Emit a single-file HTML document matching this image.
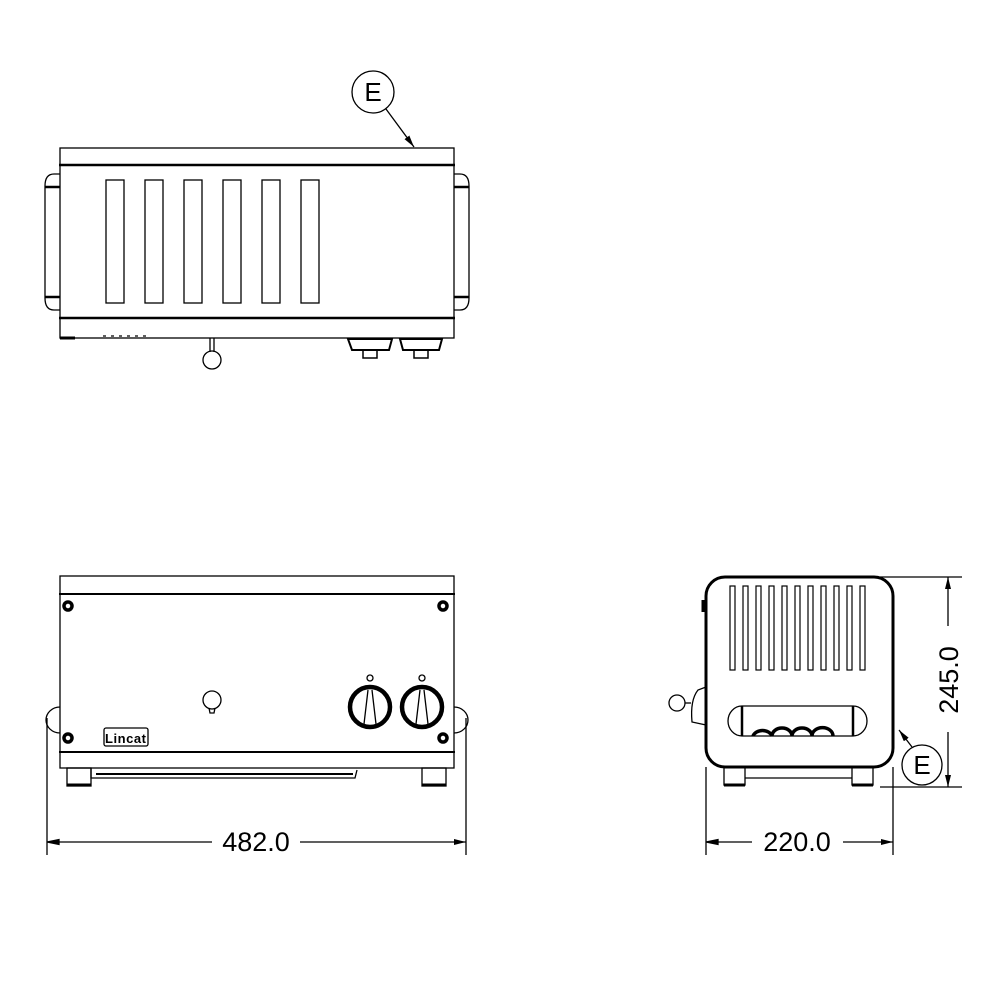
<!DOCTYPE html>
<html><head><meta charset="utf-8"><style>
html,body{margin:0;padding:0;background:#fff}
svg{display:block}
text{font-family:"Liberation Sans",Arial,sans-serif;fill:#000}
</style></head><body>
<svg width="1000" height="1000" viewBox="0 0 1000 1000" xmlns="http://www.w3.org/2000/svg">
<defs>
<marker id="ar" viewBox="0 0 12 6" refX="12" refY="3" markerWidth="12" markerHeight="6" markerUnits="userSpaceOnUse" orient="auto">
<path d="M0,0 L12,3 L0,6 Z" fill="#000"/></marker>
</defs>
<g fill="none" stroke="#000" stroke-width="1.3">
<!-- TOP VIEW -->
<rect x="60" y="148" width="394" height="190"/>
<line x1="59" y1="165" x2="455" y2="165" stroke-width="2.5"/>
<line x1="59" y1="318" x2="455" y2="318" stroke-width="2.5"/>
<path d="M60,174 H54 Q45,174 45,186 V298 Q45,310 54,310 H60"/>
<line x1="45" y1="187" x2="60" y2="187" stroke-width="2.5"/>
<line x1="45" y1="297" x2="60" y2="297" stroke-width="2.5"/>
<path d="M454,174 H460 Q469,174 469,186 V298 Q469,310 460,310 H454"/>
<line x1="454" y1="187" x2="469" y2="187" stroke-width="2.5"/>
<line x1="454" y1="297" x2="469" y2="297" stroke-width="2.5"/>
<rect x="106" y="180" width="18" height="123"/>
<rect x="145" y="180" width="18" height="123"/>
<rect x="184" y="180" width="18" height="123"/>
<rect x="223" y="180" width="18" height="123"/>
<rect x="262" y="180" width="18" height="123"/>
<rect x="301" y="180" width="18" height="123"/>
<line x1="60" y1="338" x2="75" y2="338" stroke-width="3"/>
<line x1="103" y1="336" x2="147" y2="336" stroke-dasharray="3,5"/>
<line x1="210" y1="338" x2="210" y2="352"/><line x1="214" y1="338" x2="214" y2="352"/>
<circle cx="212" cy="360" r="9"/>
<path d="M348,339 H392 L389,350 H352 Z" stroke-width="2"/>
<path d="M363,350 V358 H377 V350" stroke-width="1.5"/>
<path d="M400,339 H442 L439,350 H403 Z" stroke-width="2"/>
<path d="M414,350 V358 H428 V350" stroke-width="1.5"/>
<circle cx="373" cy="92" r="21"/>
<line x1="386" y1="109" x2="414" y2="147" marker-end="url(#ar)"/>

<!-- FRONT VIEW -->
<rect x="60" y="576" width="394" height="192"/>
<line x1="59" y1="594" x2="455" y2="594" stroke-width="2"/>
<line x1="59" y1="752" x2="455" y2="752" stroke-width="2"/>
<path d="M60,707 A14,13 0 0 0 60,733"/>
<path d="M454,707 A14,13 0 0 1 454,733"/>
<g stroke-width="3.5">
<circle cx="68" cy="606" r="4"/><circle cx="443" cy="606" r="4"/>
<circle cx="68" cy="738" r="4"/><circle cx="443" cy="738" r="4"/>
</g>
<rect x="67" y="768" width="24" height="18"/>
<line x1="67" y1="785" x2="91" y2="785" stroke-width="3"/>
<rect x="422" y="768" width="24" height="18"/>
<line x1="422" y1="785" x2="446" y2="785" stroke-width="3"/>
<path d="M91,768 V778 H355 L357,770"/>
<line x1="96" y1="774" x2="353" y2="774" stroke-width="2"/>
<circle cx="212" cy="700" r="9"/>
<path d="M209,708 L210,713 H214 L215,708"/>
<circle cx="370" cy="707" r="20" stroke-width="4.5"/>
<circle cx="422" cy="707" r="20" stroke-width="4.5"/>
<path d="M364,724 L368,690 M376,724 L372,690"/>
<path d="M416,724 L420,690 M428,724 L424,690"/>
<circle cx="370" cy="678" r="3"/><circle cx="422" cy="678" r="3"/>
<rect x="104" y="728" width="44" height="18" rx="2"/>
<line x1="47" y1="718" x2="47" y2="855"/>
<line x1="466" y1="718" x2="466" y2="855"/>
<line x1="59" y1="842" x2="212" y2="842"/>
<path d="M47,842 L59,839.5 L59,844.5 Z" fill="#000"/>
<line x1="300" y1="842" x2="466" y2="842" marker-end="url(#ar)"/>

<!-- SIDE VIEW -->
<rect x="706" y="577" width="187" height="190" rx="19" stroke-width="3"/>
<line x1="703" y1="600" x2="703" y2="612" stroke-width="3"/>
<g stroke-width="1.2">
<rect x="730" y="586" width="5" height="84"/><rect x="743" y="586" width="5" height="84"/>
<rect x="756" y="586" width="5" height="84"/><rect x="769" y="586" width="5" height="84"/>
<rect x="782" y="586" width="5" height="84"/><rect x="795" y="586" width="5" height="84"/>
<rect x="808" y="586" width="5" height="84"/><rect x="821" y="586" width="5" height="84"/>
<rect x="834" y="586" width="5" height="84"/><rect x="847" y="586" width="5" height="84"/>
<rect x="860" y="586" width="5" height="84"/>
</g>
<path d="M742,706 H853 A14,15 0 0 1 853,736 H742 A14,15 0 0 1 742,706 Z"/>
<line x1="742" y1="706" x2="742" y2="736" stroke-width="2.5"/>
<line x1="853" y1="706" x2="853" y2="736" stroke-width="2.5"/>
<path d="M753,736 A10,8 0 0 1 772,736 A10,8 0 0 1 792,736 A10,8 0 0 1 812,736 A10,8 0 0 1 833,736" stroke-width="3.5"/>
<path d="M706,687 L698,690 Q690,700 692,722 L706,725"/>
<circle cx="677" cy="703" r="8"/>
<line x1="685" y1="703" x2="691" y2="703"/>
<rect x="724" y="767" width="21" height="18"/>
<line x1="724" y1="785" x2="745" y2="785" stroke-width="3"/>
<rect x="852" y="767" width="21" height="18"/>
<line x1="852" y1="785" x2="873" y2="785" stroke-width="3"/>
<line x1="745" y1="778" x2="852" y2="778"/>
<line x1="706" y1="767" x2="706" y2="855"/>
<line x1="893" y1="767" x2="893" y2="855"/>
<line x1="718" y1="842" x2="752" y2="842"/>
<path d="M706,842 L718,839.5 L718,844.5 Z" fill="#000"/>
<line x1="843" y1="842" x2="893" y2="842" marker-end="url(#ar)"/>
<line x1="880" y1="577" x2="962" y2="577"/>
<line x1="880" y1="787" x2="962" y2="787"/>
<line x1="948" y1="626" x2="948" y2="577" marker-end="url(#ar)"/>
<line x1="948" y1="732" x2="948" y2="787" marker-end="url(#ar)"/>
<circle cx="922" cy="765" r="20"/>
<line x1="912" y1="747" x2="899" y2="730" marker-end="url(#ar)"/>
</g>
<text x="105" y="743" font-size="13" font-weight="bold" textLength="41" style="fill:#000">Lincat</text>
<text x="373" y="101" font-size="26" text-anchor="middle">E</text>
<text x="256" y="851" font-size="27" text-anchor="middle">482.0</text>
<text x="797" y="851" font-size="27" text-anchor="middle">220.0</text>
<text x="922" y="774" font-size="26" text-anchor="middle">E</text>
<text transform="translate(958,680) rotate(-90)" font-size="27" text-anchor="middle">245.0</text>
</svg>
</body></html>
